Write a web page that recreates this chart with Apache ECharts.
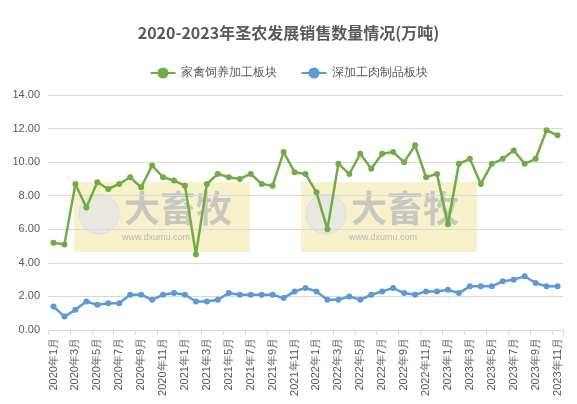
<!DOCTYPE html><html><head><meta charset="utf-8"><script src="https://cdn.jsdelivr.net/npm/echarts@6/dist/echarts.min.js"></script></head><body style="margin:0"><div id="c" style="width:577px;height:404px"></div><script>
const categories=[];for(let y=2020;y<=2023;y++)for(let m=1;m<=12;m++){if(y===2023&&m>11)break;categories.push(y+'年'+m+'月');}
const feedSeries=[5.2,5.1,8.7,7.3,8.8,8.4,8.7,9.1,8.5,9.8,9.1,8.9,8.6,4.5,8.7,9.3,9.1,9.0,9.3,8.7,8.6,10.6,9.4,9.3,8.2,6.0,9.9,9.3,10.5,9.6,10.5,10.6,10.0,11.0,9.1,9.3,6.3,9.9,10.2,8.7,9.9,10.2,10.7,9.9,10.2,11.9,11.6];
const meatSeries=[1.4,0.8,1.2,1.7,1.5,1.6,1.6,2.1,2.1,1.8,2.1,2.2,2.1,1.7,1.7,1.8,2.2,2.1,2.1,2.1,2.1,1.9,2.3,2.5,2.3,1.8,1.8,2.0,1.8,2.1,2.3,2.5,2.2,2.1,2.3,2.3,2.4,2.2,2.6,2.6,2.6,2.9,3.0,3.2,2.8,2.6,2.6];
const ch=echarts.init(document.getElementById('c'));
function wm(x){return [{type:'rect',left:x,top:182,shape:{width:176,height:70},style:{fill:'rgba(240,232,160,0.55)'},z:-1},
{type:'text',left:x+50,top:190,style:{text:'大畜牧',font:'bold 36px "Noto Sans CJK SC"',fill:'rgba(190,190,190,0.8)'},z:-1},
{type:'text',left:x+48,top:233,style:{text:'www.dxumu.com',font:'9px sans-serif',fill:'rgba(170,170,170,0.8)'},z:-1},
{type:'circle',shape:{cx:x+25,cy:214,r:20},style:{fill:'rgba(230,230,230,0.8)',stroke:'#ddd'},z:-1}];}
ch.setOption({
title:{text:'2020-2023年圣农发展销售数量情况(万吨)',left:'center',top:20,textStyle:{fontSize:16,fontWeight:'bold',color:'#595959',fontFamily:'Noto Sans CJK SC'}},
legend:{top:62,itemGap:24,textStyle:{color:'#595959',fontSize:12},data:['家禽饲养加工板块','深加工肉制品板块']},
graphic:[...wm(74),...wm(301)],
grid:{left:48,right:14,top:95,bottom:74},
xAxis:{type:'category',data:categories,boundaryGap:true,axisLabel:{rotate:90,interval:1,fontSize:11,color:'#595959'},axisLine:{lineStyle:{color:'#d9d9d9'}},axisTick:{show:true,lineStyle:{color:'#d9d9d9'}}},
yAxis:{type:'value',min:0,max:14,interval:2,axisLabel:{formatter:v=>v.toFixed(2),color:'#595959',fontSize:11},splitLine:{lineStyle:{color:'#d9d9d9'}}},
series:[{name:'家禽饲养加工板块',type:'line',data:feedSeries,symbol:'circle',symbolSize:6,itemStyle:{color:'#70ad47'},lineStyle:{width:2.5}},
{name:'深加工肉制品板块',type:'line',data:meatSeries,symbol:'circle',symbolSize:6,itemStyle:{color:'#5b9bd5'},lineStyle:{width:2.5}}]
});
</script></body></html>
